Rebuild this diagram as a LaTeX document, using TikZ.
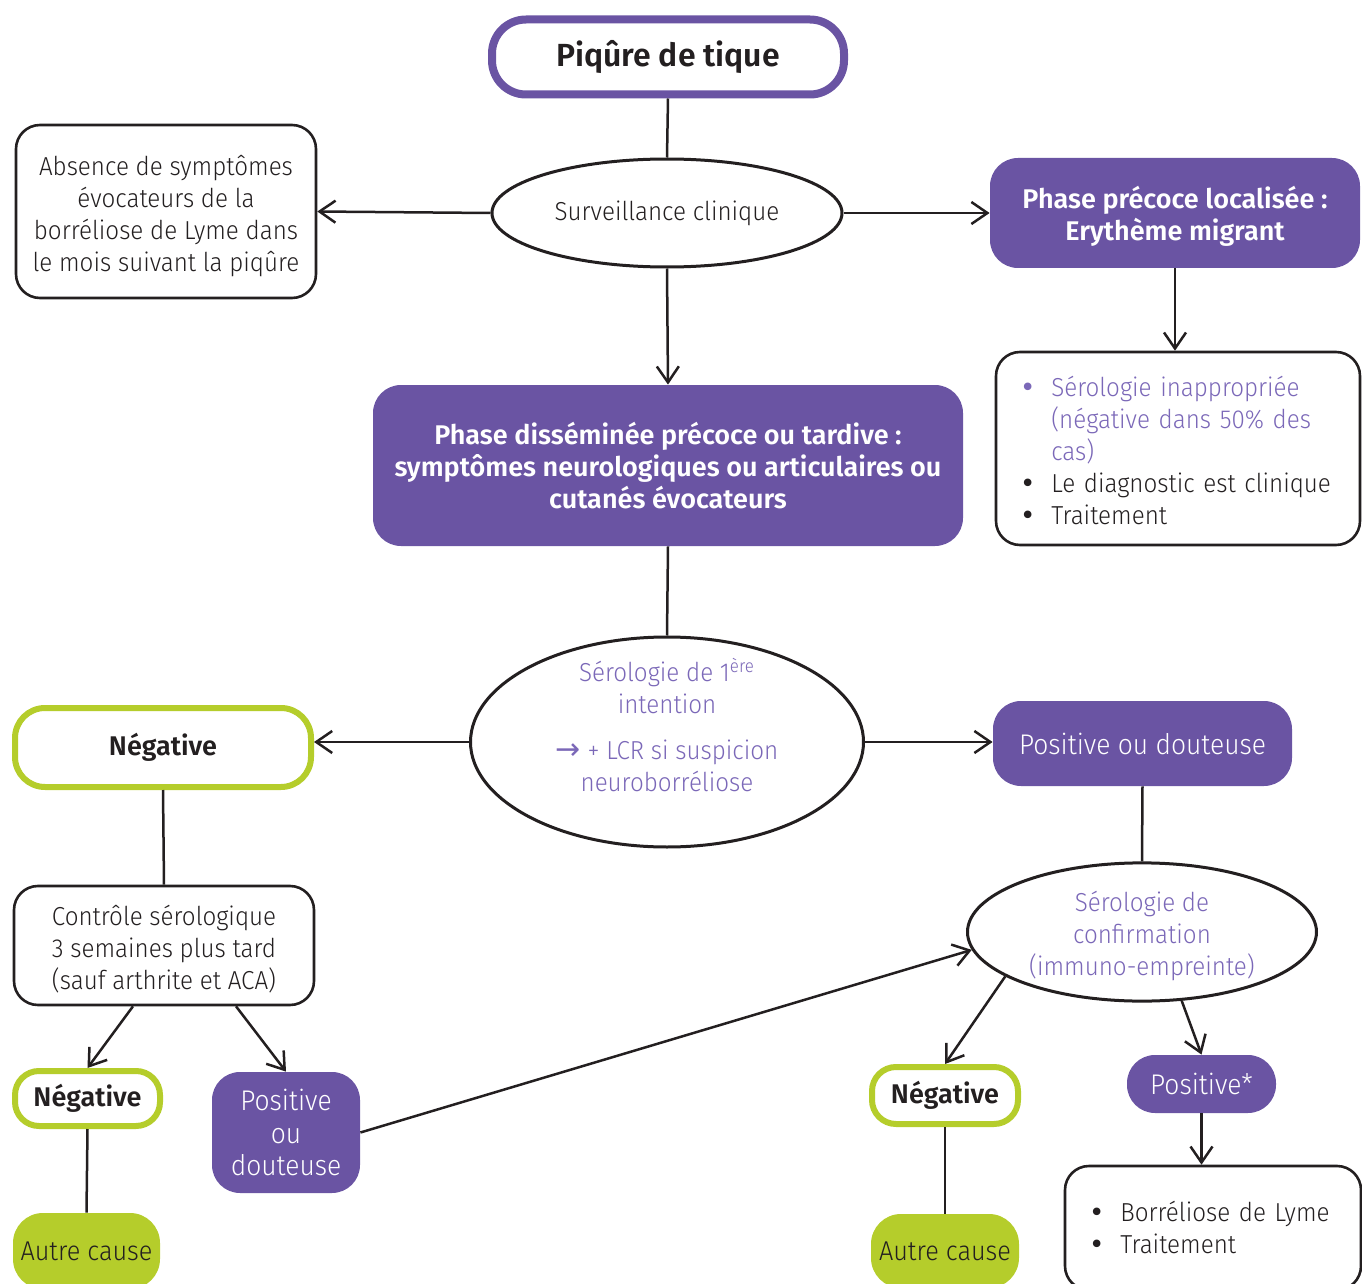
\documentclass[tikz,border=0pt]{standalone}
\usepackage{fontspec}
\setmainfont{Fira Sans}[UprightFont=* Light, BoldFont=* SemiBold, FakeStretch=0.93, BoldFeatures={FakeStretch=1.0}]
\newfontfamily\dejavu{DejaVu Sans}
\usetikzlibrary{shapes.geometric,arrows.meta}
\definecolor{purp}{HTML}{6A54A3}
\definecolor{lpurp}{HTML}{7B68B8}
\definecolor{lgreen}{HTML}{B5CD2B}
\definecolor{dark}{HTML}{231F20}
\newcommand{\blt}{{\dejavu •}}
\tikzset{
  txt/.style={font=\fontsize{13}{16}\selectfont, text=dark, align=center, inner sep=0pt},
  bfnt/.style={font=\fontsize{13.5}{16}\selectfont\bfseries},
  wbox/.style={txt, draw=dark, line width=1.3pt, rounded corners=12pt, fill=white},
  pbox/.style={txt, fill=purp, text=white, rounded corners=14pt, font=\fontsize{14.2}{16.3}\selectfont},
  gbox/.style={txt, draw=lgreen, line width=3pt, fill=white, rounded corners=15pt, bfnt},
  gfill/.style={txt, fill=lgreen, rounded corners=15pt, font=\fontsize{13.6}{16}\selectfont},
  ell/.style={txt, ellipse, draw=dark, line width=1.5pt, fill=white, text=lpurp},
  conn/.style={draw=dark, line width=1.25pt},
  arr/.style={conn, -{Straight Barb[length=8pt,width=11pt]}},
}
\begin{document}
\begin{tikzpicture}[x=0.5pt,y=-0.5pt]
\useasboundingbox (0,0) rectangle (1362,1284);
% nodes
\node[txt, draw=purp, line width=4pt, rounded corners=17pt, fill=white, minimum width=176pt, minimum height=37.5pt, font=\fontsize{16}{20}\selectfont\bfseries] (pique) at (668,57) {Piqûre de tique};
\node[ell, minimum width=175pt, minimum height=54pt, text=dark] (surv) at (667,213) {Surveillance clinique};
\node[wbox, minimum width=150pt, minimum height=86.5pt] (absence) at (166,211.5) {\rule{0pt}{14.2pt}Absence de symptômes\\évocateurs de la\\borréliose de Lyme dans\\le mois suivant la piqûre};
\node[pbox, minimum width=185pt, minimum height=55pt, bfnt] (precoce) at (1175,213) {\rule{0pt}{14.2pt}Phase précoce localisée :\\Erythème migrant};
\node[wbox, minimum width=182pt, minimum height=96.5pt, align=left, text width=158pt, inner xsep=12pt] (sero) at (1178,448.5) {%
\begin{tabular}{@{}l@{\hspace{8pt}}l@{}}
{\color{lpurp}\blt} & \rule{0pt}{17.2pt}{\color{lpurp}Sérologie inappropriée}\\
 & {\color{lpurp}(négative dans 50\% des}\\
 & {\color{lpurp}cas)}\\
\blt & Le diagnostic est clinique\\
\blt & Traitement
\end{tabular}};
\node[pbox, minimum width=295pt, minimum height=80.5pt, bfnt] (big) at (668,465.5) {Phase disséminée précoce ou tardive :\\symptômes neurologiques ou articulaires ou\\cutanés évocateurs};
\node[ell, minimum width=196.5pt, minimum height=105pt] (ell1) at (667,742) {\raisebox{3pt}[0pt][0pt]{\begin{tabular}{@{}c@{}}Sérologie de 1\textsuperscript{ère}\\intention\\[7pt]{\color{lpurp}\dejavu\fontsize{15}{16}\selectfont →} + LCR si suspicion\\neuroborréliose\end{tabular}}};
\node[gbox, minimum width=148pt, minimum height=39.5pt] (neg1) at (163,747.5) {Négative};
\node[pbox, minimum width=149.5pt, minimum height=42.5pt] (pos1) at (1142.5,743.5) {Positive ou douteuse};
\node[ell, minimum width=174.5pt, minimum height=65.5pt] (ell2) at (1142,932) {\rule{0pt}{14.2pt}Sérologie de\\confirmation\\(immuno-empreinte)};
\node[wbox, minimum width=150pt, minimum height=59.5pt] (controle) at (164,945.5) {\rule{0pt}{14.2pt}Contrôle sérologique\\3 semaines plus tard\\(sauf arthrite et ACA)};
\node[gbox, minimum width=72.5pt, minimum height=27.5pt, rounded corners=12pt] (neg2) at (87.5,1098.5) {Négative};
\node[gfill, minimum width=73.5pt, minimum height=38pt] (autre1) at (86.5,1251) {Autre cause};
\node[pbox, minimum width=74pt, minimum height=60.5pt] (pos2) at (286,1132.5) {Positive\\ou\\douteuse};
\node[gbox, minimum width=73pt, minimum height=28.5pt, rounded corners=12pt] (neg3) at (945,1095.5) {Négative};
\node[gfill, minimum width=74pt, minimum height=37pt] (autre2) at (945,1251) {Autre cause};
\node[pbox, minimum width=74.5pt, minimum height=29pt] (pos3) at (1201.5,1084) {Positive*};
\node[wbox, minimum width=148pt, minimum height=62pt, align=left, text width=124pt, inner xsep=12pt] (final) at (1213,1228) {%
\begin{tabular}{@{}l@{\hspace{8pt}}l@{}}
\blt & \rule{0pt}{14.2pt}Borréliose de Lyme\\
\blt & Traitement
\end{tabular}};
% connectors
\draw[conn] (pique.south) -- (surv.north);
\draw[arr] (surv.west) -- (absence.east);
\draw[arr] (surv.east) -- (precoce.west);
\draw[arr] (precoce.south) -- (precoce.south |- sero.north);
\draw[arr] (surv.south) -- (big.north);
\draw[conn] (big.south) -- (ell1.north);
\draw[arr] (ell1.west) -- (ell1.west -| neg1.east);
\draw[arr] (ell1.east) -- (ell1.east -| pos1.west);
\draw[conn] (pos1.south) -- (ell2.north);
\draw[conn] (neg1.south) -- (controle.north);
\draw[arr] ([xshift=-15.5pt]controle.south) -- (neg2.north);
\draw[arr] ([xshift=36pt]controle.south) -- (pos2.north);
\draw[conn] (neg2.south) -- (autre1.north);
\draw[arr] (pos2.east) -- (ell2.186);
\draw[arr] (ell2.198) -- (neg3.north);
\draw[arr] (ell2.300) -- (pos3.north);
\draw[conn] (neg3.south) -- (autre2.north);
\draw[arr] (pos3.south) -- (pos3.south |- final.north);
\end{tikzpicture}
\end{document}
